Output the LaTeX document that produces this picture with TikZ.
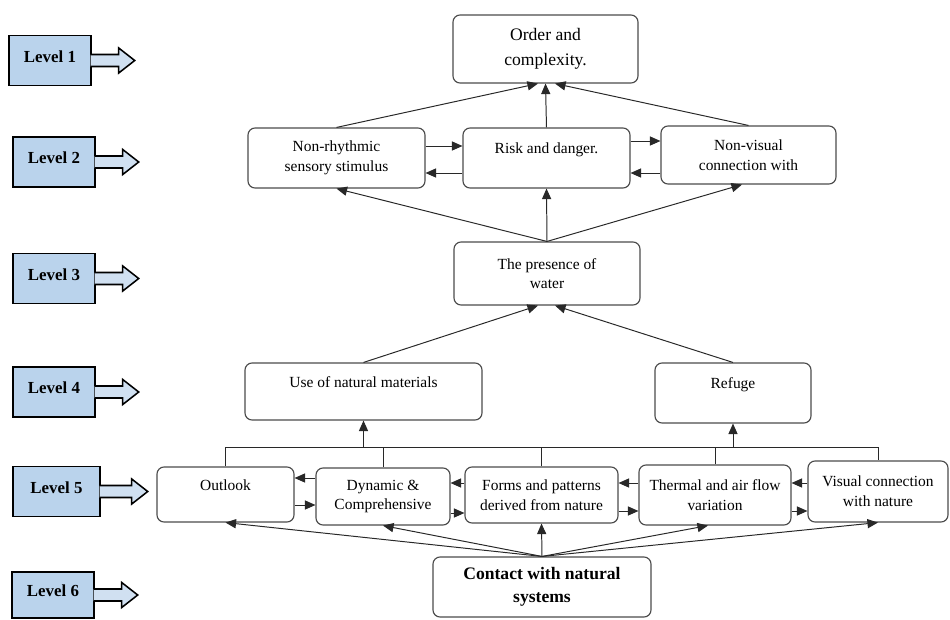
\documentclass[tikz,border=0pt]{standalone}
\usepackage{fontspec}
\setmainfont{Liberation Serif}
\usetikzlibrary{arrows.meta, positioning}
\usepackage{xcolor}

\definecolor{levelBlue}{RGB}{186,211,236}
\definecolor{arrowBlue}{RGB}{208,224,241}
\definecolor{boxGray}{RGB}{75,75,75}
\definecolor{lineGray}{RGB}{40,40,40}
\newlength{\px}
\setlength{\px}{0.025cm}

\begin{document}
\begin{tikzpicture}[x=0.025cm, y=-0.025cm, ->, >={Triangle[length=7.5pt,width=6.5pt]},
    box/.style={draw=boxGray, line width=0.8pt, rounded corners=5pt, align=center, inner sep=2pt, font=\fontsize{11}{14}\selectfont},
    level/.style={draw=black, line width=1.2pt, fill=levelBlue, minimum width=82*\px, minimum height=50*\px, inner sep=0pt, text depth=6pt, font=\bfseries\fontsize{12}{14}\selectfont},
    levelArrow/.style={-, draw=black, line width=1.1pt, fill=arrowBlue, line join=miter},
    conn/.style={color=lineGray, line width=0.7pt}]
    \useasboundingbox (0,0) rectangle (950,620);

    % level labels on the left
    \node[level] (lvl1) at (50,60.5) {Level 1};
    \node[level] (lvl2) at (54,162) {Level 2};
    \node[level] (lvl3) at (54,278.5) {Level 3};
    \node[level] (lvl4) at (54,392) {Level 4};
    \node[level, minimum width=87*\px] (lvl5) at (56.5,491.5) {Level 5};
    \node[level, minimum height=46*\px] (lvl6) at (53,595) {Level 6};
    \draw[levelArrow] ([xshift=-0.8pt]lvl1.east) ++(0,-6) -- ++(28,0) -- ++(0,-6.5) -- ++(16,12.5) -- ++(-16,12.5) -- ++(0,-6.5) -- ++(-28,0);
    \draw[levelArrow] ([xshift=-0.8pt]lvl2.east) ++(0,-6) -- ++(28,0) -- ++(0,-6.5) -- ++(16,12.5) -- ++(-16,12.5) -- ++(0,-6.5) -- ++(-28,0);
    \draw[levelArrow] ([xshift=-0.8pt]lvl3.east) ++(0,-6) -- ++(28,0) -- ++(0,-6.5) -- ++(16,12.5) -- ++(-16,12.5) -- ++(0,-6.5) -- ++(-28,0);
    \draw[levelArrow] ([xshift=-0.8pt]lvl4.east) ++(0,-6) -- ++(28,0) -- ++(0,-6.5) -- ++(16,12.5) -- ++(-16,12.5) -- ++(0,-6.5) -- ++(-28,0);
    \draw[levelArrow] ([xshift=-0.8pt]lvl5.east) ++(0,-6) -- ++(32,0) -- ++(0,-6.5) -- ++(16,12.5) -- ++(-16,12.5) -- ++(0,-6.5) -- ++(-32,0);
    \draw[levelArrow] ([xshift=-0.8pt]lvl6.east) ++(0,-6) -- ++(28,0) -- ++(0,-6.5) -- ++(16,12.5) -- ++(-16,12.5) -- ++(0,-6.5) -- ++(-28,0);

    % levels 1 to 4
    \node[box, minimum width=185*\px, minimum height=68*\px, font=\fontsize{12.5}{17.5}\selectfont] (order) at (545.5,49) {Order and\\complexity.};
    \node[box, minimum width=177*\px, minimum height=60*\px] (nonRhythm) at (336.5,158) {Non-rhythmic\\sensory stimulus};
    \node[box, minimum width=167*\px, minimum height=60*\px] (risk) at (546.5,158) {Risk and danger.\\\mbox{}};
    \node[box, minimum width=175*\px, minimum height=58*\px] (nonVisual) at (748.5,155) {Non-visual\\connection with};
    \node[box, minimum width=186*\px, minimum height=63*\px] (water) at (547,273.5) {The presence of\\water};
    \node[box, minimum width=237*\px, minimum height=57*\px] (useMat) at (363.5,391.5) {Use of natural materials\\\mbox{}};
    \node[box, minimum width=156*\px, minimum height=60*\px] (refuge) at (733,393) {Refuge\\\mbox{}};

    % level 5 and 6
    \node[box, minimum width=137*\px, minimum height=55*\px] (outlook) at (225.5,494.5) {Outlook\\\mbox{}};
    \node[box, minimum width=134*\px, minimum height=57*\px] (dynamic) at (383,496.5) {Dynamic \&\\Comprehensive};
    \node[box, minimum width=153*\px, minimum height=56*\px] (forms) at (541.5,495) {Forms and patterns\\derived from nature};
    \node[box, minimum width=152*\px, minimum height=60*\px] (thermal) at (715,495) {Thermal and air flow\\variation};
    \node[box, minimum width=140*\px, minimum height=61*\px] (visual) at (878,491.5) {Visual connection\\with nature};
    \node[box, minimum width=218*\px, minimum height=60*\px, font=\bfseries\fontsize{12.5}{16.5}\selectfont] (contact) at (542,587) {Contact with natural\\systems};
    \coordinate (bus) at (0,447);

    \path[conn]
    (nonRhythm.east |- 0,146) edge (risk.west |- 0,146)
    (risk.west |- 0,173) edge (nonRhythm.east |- 0,173)
    (risk.east |- 0,141) edge (nonVisual.west |- 0,141)
    (nonVisual.west |- 0,173) edge (risk.east |- 0,173)
    (nonRhythm.north) edge (order.south -| 538,0)
    (risk.north) edge (order.south)
    (nonVisual.north) edge (order.south -| 555,0)
    (water.north) edge (nonRhythm.south)
    (water.north) edge (risk.south)
    (water.north) edge (nonVisual.south -| 742,0)
    (useMat.north) edge (water.south -| 538,0)
    (refuge.north) edge (water.south -| 555,0);

    % bus line above level 5
    \draw[conn, -] (outlook.north) -- (outlook.north |- bus) -- (visual.north |- bus) -- (visual.north);
    \draw[conn, -] (dynamic.north) -- (dynamic.north |- bus);
    \draw[conn, -] (forms.north) -- (forms.north |- bus);
    \draw[conn, -] (thermal.north) -- (thermal.north |- bus);

    \path[conn]
    (useMat.south |- bus) edge (useMat.south)
    (refuge.south |- bus) edge (refuge.south)
    (dynamic.west |- 0,478) edge (outlook.east |- 0,478)
    (outlook.east |- 0,505) edge (dynamic.west |- 0,505)
    (forms.west |- 0,483) edge (dynamic.east |- 0,483)
    (dynamic.east |- 0,513) edge (forms.west |- 0,513)
    (thermal.west |- 0,483) edge (forms.east |- 0,483)
    (forms.east |- 0,511) edge (thermal.west |- 0,511)
    (visual.west |- 0,483) edge (thermal.east |- 0,483)
    (thermal.east |- 0,511) edge (visual.west |- 0,511)
    (contact.north) edge (outlook.south)
    (contact.north) edge (dynamic.south)
    (contact.north) edge (forms.south)
    (contact.north) edge (thermal.south -| 708,0)
    (contact.north) edge (visual.south);
\end{tikzpicture}
\end{document}
